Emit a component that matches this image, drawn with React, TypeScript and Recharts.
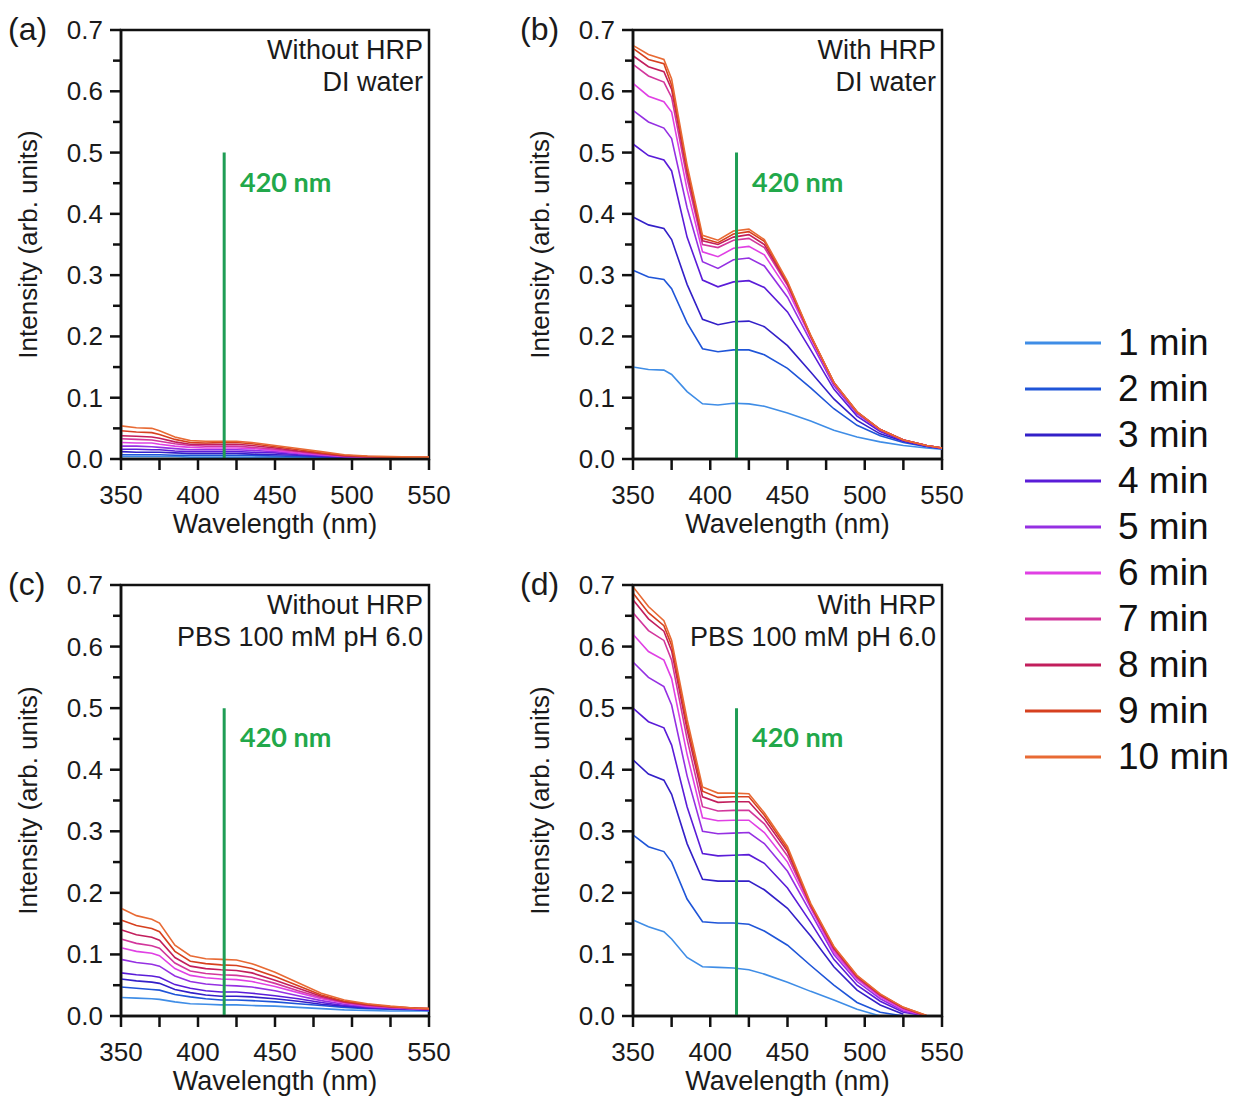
import { LineChart, Line, XAxis, YAxis, ReferenceLine, ReferenceArea, Label } from "recharts";

// shared wavelength grid (nm)
const WAVELENGTH = [350, 360, 370, 375, 385, 395, 405, 415, 425, 435, 450, 465, 480, 495, 510, 525, 540, 550];

const MINUTES = ["1 min", "2 min", "3 min", "4 min", "5 min", "6 min", "7 min", "8 min", "9 min", "10 min"];
const COLORS = ["#3f8de6", "#1f55d8", "#3320c8", "#5a1cd8", "#9530e2", "#e040e4", "#d2369c", "#c21e5c", "#d6401f", "#e86a34"];

const X_TICKS = [350, 375, 400, 425, 450, 475, 500, 525, 550];
const Y_TICKS = [0, 0.05, 0.1, 0.15, 0.2, 0.25, 0.3, 0.35, 0.4, 0.45, 0.5, 0.55, 0.6, 0.65, 0.7];

// (a) without HRP, DI water — one row per minute (1..10)
const A_NOHRP_DI = [
  [0.004, 0.004, 0.004, 0.004, 0.004, 0.003, 0.003, 0.003, 0.003, 0.003, 0.003, 0.002, 0.002, 0.001, 0.001, 0.001, 0.001, 0.001],
  [0.007, 0.007, 0.007, 0.007, 0.006, 0.006, 0.006, 0.006, 0.006, 0.006, 0.005, 0.004, 0.003, 0.002, 0.002, 0.001, 0.001, 0.001],
  [0.012, 0.011, 0.011, 0.011, 0.010, 0.009, 0.009, 0.009, 0.009, 0.008, 0.007, 0.006, 0.004, 0.003, 0.002, 0.002, 0.002, 0.002],
  [0.016, 0.016, 0.015, 0.015, 0.013, 0.012, 0.012, 0.012, 0.012, 0.011, 0.010, 0.007, 0.005, 0.003, 0.002, 0.002, 0.002, 0.002],
  [0.021, 0.021, 0.020, 0.019, 0.017, 0.015, 0.015, 0.015, 0.015, 0.014, 0.012, 0.009, 0.006, 0.004, 0.003, 0.002, 0.002, 0.002],
  [0.027, 0.026, 0.026, 0.024, 0.021, 0.019, 0.018, 0.018, 0.018, 0.017, 0.014, 0.010, 0.007, 0.004, 0.003, 0.002, 0.002, 0.002],
  [0.033, 0.032, 0.031, 0.029, 0.025, 0.022, 0.021, 0.021, 0.021, 0.019, 0.016, 0.012, 0.008, 0.005, 0.003, 0.002, 0.002, 0.002],
  [0.038, 0.037, 0.036, 0.034, 0.028, 0.024, 0.024, 0.024, 0.024, 0.022, 0.018, 0.013, 0.009, 0.005, 0.004, 0.003, 0.002, 0.002],
  [0.046, 0.044, 0.043, 0.040, 0.032, 0.027, 0.026, 0.027, 0.027, 0.025, 0.020, 0.015, 0.010, 0.006, 0.004, 0.003, 0.003, 0.003],
  [0.054, 0.051, 0.050, 0.046, 0.036, 0.030, 0.029, 0.029, 0.029, 0.027, 0.022, 0.017, 0.012, 0.007, 0.005, 0.004, 0.003, 0.003],
];

// (b) with HRP, DI water
const B_HRP_DI = [
  [0.150, 0.146, 0.145, 0.138, 0.110, 0.090, 0.088, 0.091, 0.090, 0.086, 0.075, 0.062, 0.047, 0.036, 0.028, 0.022, 0.018, 0.016],
  [0.308, 0.297, 0.293, 0.278, 0.222, 0.180, 0.175, 0.178, 0.178, 0.170, 0.148, 0.116, 0.082, 0.055, 0.038, 0.027, 0.020, 0.017],
  [0.395, 0.382, 0.376, 0.358, 0.285, 0.228, 0.219, 0.224, 0.225, 0.216, 0.185, 0.142, 0.098, 0.063, 0.041, 0.029, 0.021, 0.017],
  [0.514, 0.495, 0.488, 0.470, 0.362, 0.292, 0.281, 0.289, 0.291, 0.280, 0.240, 0.178, 0.114, 0.070, 0.045, 0.030, 0.021, 0.017],
  [0.569, 0.550, 0.540, 0.523, 0.410, 0.322, 0.311, 0.325, 0.328, 0.315, 0.264, 0.192, 0.120, 0.074, 0.047, 0.031, 0.022, 0.018],
  [0.613, 0.592, 0.583, 0.566, 0.440, 0.338, 0.330, 0.344, 0.347, 0.333, 0.276, 0.198, 0.123, 0.076, 0.048, 0.031, 0.022, 0.018],
  [0.644, 0.625, 0.615, 0.590, 0.458, 0.350, 0.345, 0.357, 0.360, 0.345, 0.283, 0.200, 0.124, 0.076, 0.048, 0.031, 0.022, 0.018],
  [0.658, 0.640, 0.632, 0.603, 0.468, 0.356, 0.350, 0.362, 0.366, 0.350, 0.286, 0.201, 0.125, 0.077, 0.048, 0.031, 0.022, 0.018],
  [0.670, 0.652, 0.645, 0.610, 0.474, 0.360, 0.353, 0.367, 0.371, 0.355, 0.288, 0.201, 0.125, 0.077, 0.048, 0.031, 0.022, 0.018],
  [0.675, 0.660, 0.652, 0.620, 0.480, 0.365, 0.357, 0.372, 0.375, 0.358, 0.290, 0.202, 0.125, 0.077, 0.048, 0.031, 0.022, 0.018],
];

// (c) without HRP, PBS 100 mM pH 6.0
const C_NOHRP_PBS = [
  [0.030, 0.029, 0.028, 0.027, 0.023, 0.020, 0.019, 0.018, 0.018, 0.017, 0.016, 0.014, 0.012, 0.010, 0.009, 0.008, 0.008, 0.008],
  [0.047, 0.045, 0.043, 0.042, 0.035, 0.031, 0.028, 0.026, 0.026, 0.025, 0.023, 0.020, 0.017, 0.014, 0.012, 0.011, 0.010, 0.009],
  [0.060, 0.057, 0.055, 0.053, 0.043, 0.038, 0.034, 0.032, 0.032, 0.031, 0.028, 0.024, 0.019, 0.016, 0.013, 0.012, 0.011, 0.010],
  [0.070, 0.067, 0.065, 0.063, 0.051, 0.045, 0.041, 0.039, 0.039, 0.037, 0.033, 0.028, 0.022, 0.017, 0.014, 0.012, 0.011, 0.010],
  [0.092, 0.087, 0.084, 0.081, 0.065, 0.056, 0.052, 0.050, 0.049, 0.047, 0.041, 0.033, 0.025, 0.019, 0.015, 0.013, 0.012, 0.011],
  [0.111, 0.105, 0.102, 0.098, 0.077, 0.066, 0.062, 0.060, 0.059, 0.056, 0.048, 0.038, 0.028, 0.021, 0.016, 0.014, 0.012, 0.011],
  [0.125, 0.118, 0.114, 0.110, 0.086, 0.073, 0.069, 0.067, 0.066, 0.063, 0.053, 0.041, 0.030, 0.022, 0.017, 0.014, 0.012, 0.011],
  [0.140, 0.132, 0.128, 0.123, 0.095, 0.081, 0.077, 0.075, 0.074, 0.070, 0.058, 0.045, 0.032, 0.023, 0.018, 0.015, 0.013, 0.012],
  [0.156, 0.147, 0.142, 0.137, 0.105, 0.089, 0.085, 0.083, 0.082, 0.077, 0.064, 0.049, 0.034, 0.024, 0.019, 0.015, 0.013, 0.012],
  [0.175, 0.163, 0.157, 0.151, 0.115, 0.098, 0.093, 0.092, 0.091, 0.085, 0.071, 0.054, 0.037, 0.026, 0.020, 0.016, 0.013, 0.012],
];

// (d) with HRP, PBS 100 mM pH 6.0 (curves end where they reach zero)
const D_HRP_PBS = [
  [0.156, 0.145, 0.137, 0.125, 0.095, 0.080, 0.079, 0.078, 0.075, 0.068, 0.055, 0.040, 0.026, 0.011, 0.000, null, null, null],
  [0.294, 0.275, 0.267, 0.250, 0.190, 0.153, 0.151, 0.151, 0.149, 0.138, 0.115, 0.082, 0.050, 0.022, 0.006, 0.000, null, null],
  [0.416, 0.393, 0.383, 0.360, 0.280, 0.222, 0.219, 0.219, 0.219, 0.205, 0.175, 0.130, 0.080, 0.042, 0.018, 0.003, null, null],
  [0.500, 0.478, 0.468, 0.440, 0.340, 0.264, 0.260, 0.261, 0.262, 0.248, 0.208, 0.152, 0.092, 0.050, 0.024, 0.006, 0.000, null],
  [0.575, 0.550, 0.535, 0.505, 0.390, 0.300, 0.296, 0.297, 0.298, 0.280, 0.235, 0.168, 0.100, 0.056, 0.028, 0.008, 0.000, null],
  [0.620, 0.592, 0.578, 0.548, 0.425, 0.322, 0.317, 0.318, 0.318, 0.298, 0.250, 0.175, 0.104, 0.060, 0.031, 0.010, 0.000, null],
  [0.655, 0.626, 0.610, 0.578, 0.450, 0.340, 0.333, 0.334, 0.334, 0.312, 0.260, 0.178, 0.108, 0.062, 0.033, 0.012, 0.000, null],
  [0.676, 0.645, 0.625, 0.593, 0.465, 0.356, 0.347, 0.348, 0.348, 0.320, 0.267, 0.180, 0.110, 0.064, 0.034, 0.013, 0.000, null],
  [0.687, 0.655, 0.634, 0.602, 0.473, 0.365, 0.355, 0.356, 0.356, 0.326, 0.271, 0.181, 0.112, 0.065, 0.035, 0.014, 0.001, null],
  [0.697, 0.665, 0.642, 0.610, 0.482, 0.372, 0.362, 0.362, 0.361, 0.330, 0.275, 0.183, 0.113, 0.066, 0.036, 0.014, 0.001, null],
];

const MARKER_NM = 417;
const GREEN = "#1f9d55";
const FONT = "'Liberation Sans', Arial, sans-serif";
const TOP_PAD = 30;
const RIGHT_PAD = 45;
const BOTTOM_AXIS = 90;

function toRows(series: (number | null)[][]) {
  return WAVELENGTH.map((w, i) => {
    const row: Record<string, number | null> = { w };
    series.forEach((s, k) => (row["m" + (k + 1)] = s[i]));
    return row;
  });
}

function XTick(props: any) {
  const { x, y, payload } = props;
  const major = payload.value % 50 === 0;
  return (
    <g>
      <line x1={x} x2={x} y1={y} y2={y + 11} stroke="#111" strokeWidth={2.5} />
      {major && (
        <text x={x} y={y + 45} textAnchor="middle" fontSize={26} fontFamily={FONT} fill="#1a1a1a">
          {payload.value}
        </text>
      )}
    </g>
  );
}

function YTick(props: any) {
  const { x, y, payload } = props;
  const major = Math.round(payload.value * 100) % 10 === 0;
  return (
    <g>
      <line x1={x - (major ? 11 : 8)} x2={x} y1={y} y2={y} stroke="#111" strokeWidth={2.5} />
      {major && (
        <text x={x - 18} y={y + 9} textAnchor="end" fontSize={26} fontFamily={FONT} fill="#1a1a1a">
          {payload.value.toFixed(1)}
        </text>
      )}
    </g>
  );
}

type PanelProps = {
  series: (number | null)[][];
  x0: number; y0: number; x1: number; y1: number;
  letter: string;
  notes: string[];
};

function Panel({ series, x0, y0, x1, y1, letter, notes }: PanelProps) {
  const data = toRows(series);
  const axis = { stroke: "#111", strokeWidth: 2.5 };
  return (
    <>
      <div style={{ position: "absolute", left: x0 - 120, top: y0 - TOP_PAD }}>
        <LineChart width={x1 - x0 + 120 + RIGHT_PAD} height={y1 - y0 + BOTTOM_AXIS + TOP_PAD} data={data}
          margin={{ top: TOP_PAD, right: RIGHT_PAD, left: 0, bottom: 0 }}>
          <XAxis xAxisId="b" dataKey="w" type="number" domain={[350, 550]} ticks={X_TICKS} interval={0}
            tickSize={0} tickMargin={0} tickLine={false} tick={<XTick />} axisLine={axis} height={BOTTOM_AXIS}>
            <Label value="Wavelength (nm)" position="insideBottom" offset={16}
              style={{ fontSize: 27, fontFamily: FONT, fill: "#1a1a1a" }} />
          </XAxis>
          <YAxis yAxisId="l" type="number" domain={[0, 0.7]} ticks={Y_TICKS} interval={0}
            tickSize={0} tickMargin={0} tickLine={false} tick={<YTick />} axisLine={axis} width={120}>
            <Label value="Intensity (arb. units)" angle={-90} position="insideLeft" offset={27}
              style={{ fontSize: 26, fontFamily: FONT, fill: "#1a1a1a", textAnchor: "middle" }} />
          </YAxis>
          {MINUTES.map((m, k) => (
            <Line key={m} xAxisId="b" yAxisId="l" type="linear" dataKey={"m" + (k + 1)} name={m}
              stroke={COLORS[k]} strokeWidth={1.6} dot={false} isAnimationActive={false} />
          ))}
          <ReferenceLine xAxisId="b" yAxisId="l" segment={[{ x: MARKER_NM, y: 0 }, { x: MARKER_NM, y: 0.5 }]}
            stroke={GREEN} strokeWidth={3} />
          {/* plot frame */}
          <ReferenceArea xAxisId="b" yAxisId="l" x1={350} x2={550} y1={0} y2={0.7}
            fill="none" fillOpacity={0} stroke="#111" strokeWidth={2.5} ifOverflow="visible" />
        </LineChart>
      </div>
      <div style={{ position: "absolute", left: x0 - 113, top: y0 - 19, fontSize: 32, lineHeight: "36px", fontFamily: FONT, color: "#1a1a1a" }}>
        ({letter})
      </div>
      <div style={{ position: "absolute", left: x1 - 406, width: 400, top: y0 + 4, textAlign: "right", fontSize: 27, lineHeight: "32px", fontFamily: FONT, color: "#1a1a1a" }}>
        {notes.map((n) => <div key={n}>{n}</div>)}
      </div>
      <div style={{ position: "absolute", left: x0 + 119, top: y0 + 136, fontSize: 27, lineHeight: "32px", fontWeight: "bold", fontFamily: "Lato, 'Open Sans', sans-serif", color: "#22a84a" }}>
        420 nm
      </div>
    </>
  );
}

function LegendBox() {
  return (
    <div style={{ position: "absolute", left: 1025, top: 320 }}>
      {MINUTES.map((m, k) => (
        <div key={m} style={{ display: "flex", alignItems: "center", height: 46 }}>
          <svg width={76} height={10}>
            <line x1={0} x2={76} y1={5} y2={5} stroke={COLORS[k]} strokeWidth={3} />
          </svg>
          <span style={{ marginLeft: 17, fontSize: 37, fontFamily: FONT, color: "#111" }}>{m}</span>
        </div>
      ))}
    </div>
  );
}

export default function App() {
  return (
    <div style={{ position: "absolute", left: 0, top: 0, width: 1239, height: 1097, background: "#fff", overflow: "hidden" }}>
      <Panel series={A_NOHRP_DI} x0={121} y0={30} x1={429} y1={459} letter="a" notes={["Without HRP", "DI water"]} />
      <Panel series={B_HRP_DI} x0={633} y0={30} x1={942} y1={459} letter="b" notes={["With HRP", "DI water"]} />
      <Panel series={C_NOHRP_PBS} x0={121} y0={585} x1={429} y1={1016} letter="c" notes={["Without HRP", "PBS 100 mM pH 6.0"]} />
      <Panel series={D_HRP_PBS} x0={633} y0={585} x1={942} y1={1016} letter="d" notes={["With HRP", "PBS 100 mM pH 6.0"]} />
      <LegendBox />
    </div>
  );
}
